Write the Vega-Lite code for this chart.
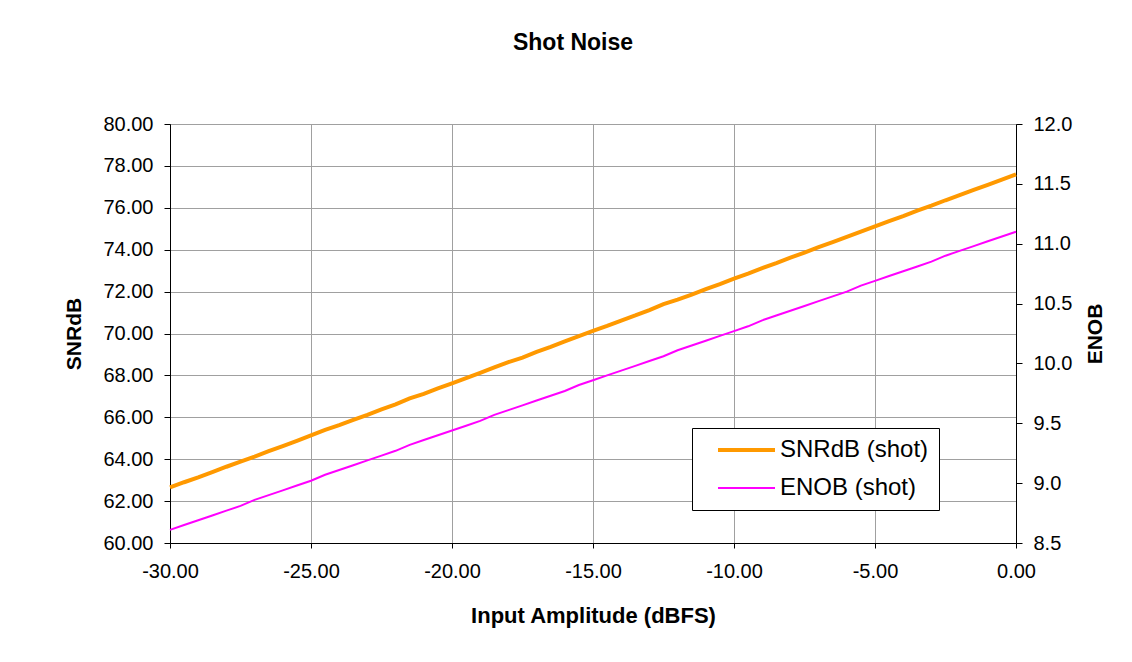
{
  "$schema": "https://vega.github.io/schema/vega-lite/v6.json",
  "width": 846,
  "height": 419,
  "autosize": {"type": "none"},
  "padding": {"left": 170, "top": 124, "right": 116, "bottom": 119},
  "background": "white",
  "title": {
    "text": "Shot Noise",
    "font": "Liberation Sans",
    "fontSize": 23,
    "fontWeight": "bold",
    "color": "#000000",
    "anchor": "middle",
    "dx": -20,
    "baseline": "alphabetic",
    "offset": 41
  },
  "data": {
    "values": [
      {"amp": -30.0, "snr": 62.65, "enob": 8.61},
      {"amp": -29.5, "snr": 62.90, "enob": 8.65},
      {"amp": -29.0, "snr": 63.13, "enob": 8.69},
      {"amp": -28.5, "snr": 63.38, "enob": 8.73},
      {"amp": -28.0, "snr": 63.64, "enob": 8.77},
      {"amp": -27.5, "snr": 63.88, "enob": 8.81},
      {"amp": -27.0, "snr": 64.12, "enob": 8.86},
      {"amp": -26.5, "snr": 64.38, "enob": 8.90},
      {"amp": -26.0, "snr": 64.63, "enob": 8.94},
      {"amp": -25.5, "snr": 64.88, "enob": 8.98},
      {"amp": -25.0, "snr": 65.14, "enob": 9.02},
      {"amp": -24.5, "snr": 65.40, "enob": 9.07},
      {"amp": -24.0, "snr": 65.63, "enob": 9.11},
      {"amp": -23.5, "snr": 65.88, "enob": 9.15},
      {"amp": -23.0, "snr": 66.12, "enob": 9.19},
      {"amp": -22.5, "snr": 66.38, "enob": 9.23},
      {"amp": -22.0, "snr": 66.62, "enob": 9.27},
      {"amp": -21.5, "snr": 66.90, "enob": 9.32},
      {"amp": -21.0, "snr": 67.12, "enob": 9.36},
      {"amp": -20.5, "snr": 67.38, "enob": 9.40},
      {"amp": -20.0, "snr": 67.62, "enob": 9.44},
      {"amp": -19.5, "snr": 67.87, "enob": 9.48},
      {"amp": -19.0, "snr": 68.12, "enob": 9.52},
      {"amp": -18.5, "snr": 68.38, "enob": 9.57},
      {"amp": -18.0, "snr": 68.63, "enob": 9.61},
      {"amp": -17.5, "snr": 68.85, "enob": 9.65},
      {"amp": -17.0, "snr": 69.12, "enob": 9.69},
      {"amp": -16.5, "snr": 69.36, "enob": 9.73},
      {"amp": -16.0, "snr": 69.62, "enob": 9.77},
      {"amp": -15.5, "snr": 69.88, "enob": 9.82},
      {"amp": -15.0, "snr": 70.12, "enob": 9.86},
      {"amp": -14.5, "snr": 70.36, "enob": 9.90},
      {"amp": -14.0, "snr": 70.62, "enob": 9.94},
      {"amp": -13.5, "snr": 70.86, "enob": 9.98},
      {"amp": -13.0, "snr": 71.12, "enob": 10.02},
      {"amp": -12.5, "snr": 71.40, "enob": 10.06},
      {"amp": -12.0, "snr": 71.62, "enob": 10.11},
      {"amp": -11.5, "snr": 71.86, "enob": 10.15},
      {"amp": -11.0, "snr": 72.12, "enob": 10.19},
      {"amp": -10.5, "snr": 72.36, "enob": 10.23},
      {"amp": -10.0, "snr": 72.62, "enob": 10.27},
      {"amp": -9.5, "snr": 72.86, "enob": 10.31},
      {"amp": -9.0, "snr": 73.12, "enob": 10.36},
      {"amp": -8.5, "snr": 73.36, "enob": 10.40},
      {"amp": -8.0, "snr": 73.62, "enob": 10.44},
      {"amp": -7.5, "snr": 73.86, "enob": 10.48},
      {"amp": -7.0, "snr": 74.12, "enob": 10.52},
      {"amp": -6.5, "snr": 74.36, "enob": 10.56},
      {"amp": -6.0, "snr": 74.61, "enob": 10.60},
      {"amp": -5.5, "snr": 74.86, "enob": 10.65},
      {"amp": -5.0, "snr": 75.11, "enob": 10.69},
      {"amp": -4.5, "snr": 75.36, "enob": 10.73},
      {"amp": -4.0, "snr": 75.60, "enob": 10.77},
      {"amp": -3.5, "snr": 75.86, "enob": 10.81},
      {"amp": -3.0, "snr": 76.10, "enob": 10.85},
      {"amp": -2.5, "snr": 76.36, "enob": 10.90},
      {"amp": -2.0, "snr": 76.60, "enob": 10.94},
      {"amp": -1.5, "snr": 76.85, "enob": 10.98},
      {"amp": -1.0, "snr": 77.10, "enob": 11.02},
      {"amp": -0.5, "snr": 77.35, "enob": 11.06},
      {"amp": 0.0, "snr": 77.60, "enob": 11.10}
    ]
  },
  "encoding": {
    "x": {
      "field": "amp",
      "type": "quantitative",
      "scale": {"domain": [-30, 0], "nice": false, "zero": false},
      "axis": {
        "title": "Input Amplitude (dBFS)",
        "values": [-30, -25, -20, -15, -10, -5, 0],
        "labelExpr": "(datum.value < 0 ? '-' : '') + format(abs(datum.value), '.2f')",
        "tickSize": 5,
        "labelPadding": 13,
        "titlePadding": 24,
        "titleFontSize": 22,
        "grid": true
      }
    }
  },
  "layer": [
    {
      "mark": {"type": "line", "strokeWidth": 4, "interpolate": "linear"},
      "encoding": {
        "y": {
          "field": "snr",
          "type": "quantitative",
          "scale": {"domain": [60, 80], "nice": false, "zero": false},
          "axis": {
            "title": "SNRdB",
            "orient": "left",
            "values": [60, 62, 64, 66, 68, 70, 72, 74, 76, 78, 80],
            "format": ".2f",
            "tickSize": 6,
            "labelPadding": 11,
            "titlePadding": 18,
            "grid": true
          }
        },
        "color": {
          "datum": "SNRdB (shot)",
          "type": "nominal",
          "scale": {
            "domain": ["SNRdB (shot)", "ENOB (shot)"],
            "range": ["#FF9900", "#FF00FF"]
          },
          "legend": {
            "title": null,
            "orient": "none",
            "legendX": 522,
            "legendY": 304,
            "padding": 10,
            "strokeColor": "#000000",
            "fillColor": "#ffffff",
            "symbolType": "M -6.2 0 M -4.7 0 H 1",
            "symbolSize": 400,
            "symbolOffset": 51,
            "labelOffset": 3,
            "labelFontSize": 24,
            "labelFont": "Liberation Sans",
            "labelColor": "#000000",
            "labelLimit": 400,
            "rowPadding": 14,
            "encode": {
              "symbols": {
                "update": {
                  "strokeWidth": {"signal": "datum.value === 'SNRdB (shot)' ? 4 : 2"},
                  "fill": {"value": "transparent"}
                }
              }
            }
          }
        }
      }
    },
    {
      "mark": {"type": "line", "strokeWidth": 2, "interpolate": "linear"},
      "encoding": {
        "y": {
          "field": "enob",
          "type": "quantitative",
          "scale": {"domain": [8.5, 12], "nice": false, "zero": false},
          "axis": {
            "title": "ENOB",
            "orient": "right",
            "values": [8.5, 9, 9.5, 10, 10.5, 11, 11.5, 12],
            "format": ".1f",
            "tickSize": 6,
            "labelPadding": 11,
            "titlePadding": 13,
            "titleAngle": 270,
            "titleBaseline": "top",
            "grid": false
          }
        },
        "color": {"datum": "ENOB (shot)", "type": "nominal"}
      }
    }
  ],
  "resolve": {"scale": {"y": "independent"}},
  "config": {
    "font": "Liberation Sans",
    "view": {"stroke": "#000000", "strokeWidth": 1},
    "axis": {
      "labelFont": "Liberation Sans",
      "labelFontSize": 20,
      "labelColor": "#000000",
      "titleFont": "Liberation Sans",
      "titleFontSize": 21,
      "titleFontWeight": "bold",
      "titleColor": "#000000",
      "domainColor": "#000000",
      "domainWidth": 1,
      "tickColor": "#000000",
      "tickWidth": 1,
      "gridColor": "#a0a0a0",
      "gridWidth": 1,
      "labelOverlap": false,
      "labelFlush": false
    }
  }
}
